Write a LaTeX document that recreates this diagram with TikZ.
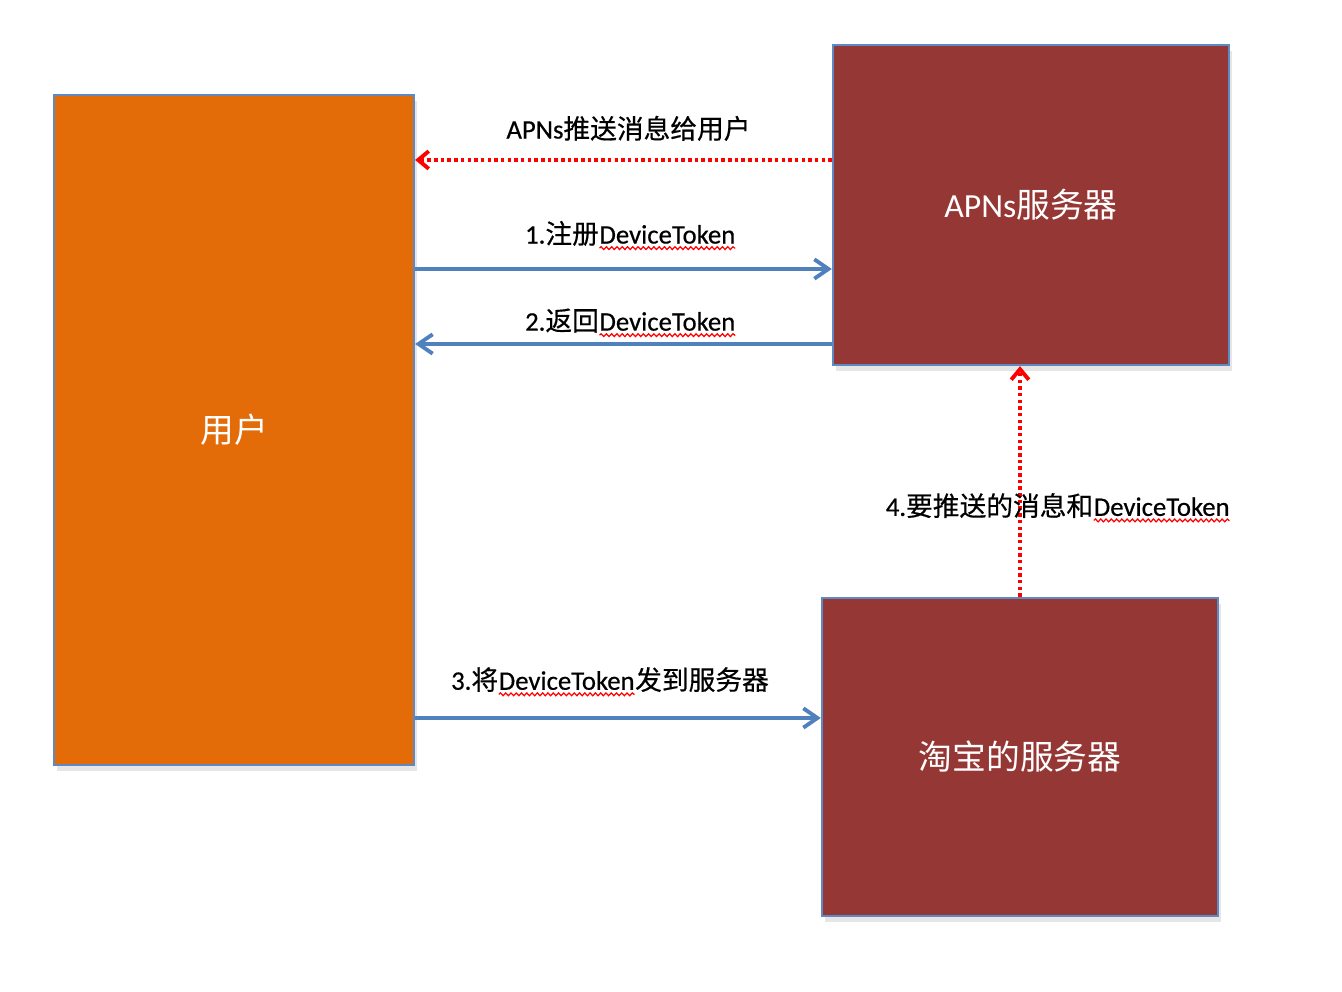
\documentclass[tikz,border=0pt]{standalone}
\usepackage{fontspec}
\usetikzlibrary{arrows.meta,shadows,decorations.pathmorphing}
\setmainfont{Carlito}
\newfontfamily\cjk{Noto Sans CJK SC}
\newfontfamily\lbllatin{Carlito}[FakeBold=0.5]
\newfontfamily\lblcjk{Noto Sans CJK SC}[FakeBold=0.5]
\newcommand\zh[1]{{\cjk #1}}
\newcommand\devtok{\tikz[baseline=(tok.base)]{\node[inner sep=0pt, outer sep=0pt] (tok) {DeviceToken};
    \draw[-, red, line width=0.35pt, decorate, decoration={snake, amplitude=0.4pt, segment length=1.5pt}]
      ([yshift=-1.3pt]tok.base west) -- ([yshift=-1.3pt]tok.base east);}}
\definecolor{userorange}{HTML}{E36C09}
\definecolor{serverred}{HTML}{953735}
\definecolor{boxline}{HTML}{5E8AC4}
\definecolor{flowblue}{HTML}{4F81BD}
\tikzset{
  box/.style={draw=boxline, line width=0.6pt, text=white,
    font=\fontsize{9.6}{11}\selectfont,
    drop shadow={shadow xshift=0.3mm, shadow yshift=-0.6mm, opacity=0.2}},
  flow/.style={flowblue, line width=1.1pt, -{Straight Barb[length=4pt,width=5.5pt]}},
  push/.style={red, line width=1.1pt, dash pattern=on 1pt off 0.9pt,
    -{Straight Barb[length=3pt,width=5pt]}},
  lbl/.style={font=\fontsize{7.6}{9}\selectfont\lbllatin\let\cjk\lblcjk, text=black}
}
\begin{document}
\begin{tikzpicture}[x=0.01cm, y=-0.01cm]
    %initialisation
    \useasboundingbox (0,0) rectangle (1342,992);
    %boxes
    \node[box, fill=userorange, minimum width=3.6cm, minimum height=6.7cm] (user) at (234,430) {\zh{用户}};
    \node[box, fill=serverred, minimum width=3.96cm, minimum height=3.2cm] (apns) at (1031,205) {APNs\zh{服务器}};
    \node[box, fill=serverred, minimum width=3.96cm, minimum height=3.18cm] (taobao) at (1020,757) {\zh{淘宝的服务器}};
    %arrows
    \draw[push] (apns.west |- 0,160) -- (user.east |- 0,160)
        node[lbl, midway, yshift=9pt, xshift=0.05cm] {APNs\zh{推送消息给用户}};
    \draw[flow] (user.east |- 0,269) -- (apns.west |- 0,269)
        node[lbl, midway, yshift=9.5pt, xshift=0.07cm] {1.\zh{注册}\devtok};
    \draw[flow] (apns.west |- 0,344) -- (user.east |- 0,344)
        node[lbl, midway, yshift=6pt, xshift=0.07cm] {2.\zh{返回}\devtok};
    \draw[flow] (user.east |- 0,718) -- (taobao.west |- 0,718)
        node[lbl, midway, yshift=10.3pt, xshift=-0.08cm] {3.\zh{将}\devtok\zh{发到服务器}};
    \draw[push] (taobao.north) -- (apns.south -| taobao.north)
        node[lbl, pos=0.386, xshift=0.38cm] {4.\zh{要推送的消息和}\devtok};
\end{tikzpicture}
\end{document}
